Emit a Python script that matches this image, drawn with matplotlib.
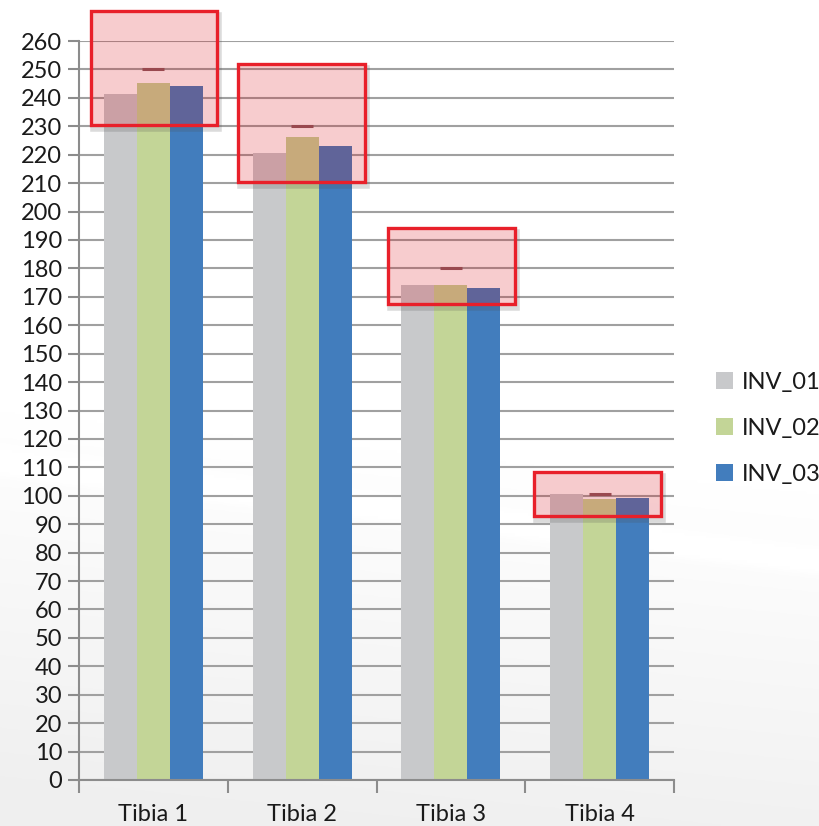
import numpy as np
import matplotlib
matplotlib.use("Agg")
import matplotlib.pyplot as plt
from matplotlib.patches import Rectangle
import matplotlib.transforms as mtransforms

categories = ["Tibia 1", "Tibia 2", "Tibia 3", "Tibia 4"]
series_names = ["INV_01", "INV_02", "INV_03"]
inv_01 = [241.4, 220.6, 174.2, 100.5]
inv_02 = [245.2, 226.2, 174.2, 99.0]
inv_03 = [244.2, 223.1, 173.1, 99.2]
inv_02_err_top = [250.0, 230.0, 180.0, 100.5]
y_ticks = list(range(0, 261, 10))
# highlight boxes: (x_left, x_right) in category units, (y_bottom, y_top) in data units
box_x = [(-0.42, 0.43), (0.57, 1.42), (1.58, 2.43), (2.56, 3.41)]
box_y = [(230.5, 270.6), (210.4, 251.9), (167.5, 194.2), (92.9, 108.4)]

colors = ["#c8c9cb", "#c3d597", "#427dbd"]

plt.rcParams['font.family'] = ['Lato', 'DejaVu Sans']

fig = plt.figure(figsize=(8.19, 8.26), dpi=100)
fig.patch.set_facecolor("white")

# background swoosh
bg = fig.add_axes([0, 0, 1, 1], zorder=-10)
h, w = 300, 300
yy = np.linspace(0, 1, h)[:, None] * np.ones((1, w))
xx = np.ones((h, 1)) * np.linspace(0, 1, w)[None, :]
curve = 0.50 + 0.10 * xx
t = np.clip((yy - curve) / 0.45, 0, 1)
shade = 1.0 - 0.06 * t
band = np.exp(-((yy - (0.56 + 0.12 * xx)) / 0.012) ** 2)
shade = np.clip(shade + 0.04 * band, 0, 1)
bg.imshow(np.dstack([shade] * 3), extent=[0, 1, 0, 1], aspect='auto', origin='upper')
bg.set_axis_off()

ax = fig.add_axes([79 / 819, 46 / 826, (674 - 79) / 819, (780 - 41) / 826])
ax.set_facecolor("none")

x = np.arange(len(categories))
bw = 0.222
for i, (vals, c, name) in enumerate(zip([inv_01, inv_02, inv_03], colors, series_names)):
    ax.bar(x + (i - 1) * bw, vals, width=bw, color=c, label=name, zorder=2)

ax.plot(x, inv_02_err_top, linestyle='none', marker='_', markersize=16,
        markeredgewidth=2.2, color="#8a5c60", zorder=3)

shadow_tr = mtransforms.offset_copy(ax.transData, fig=fig, x=2, y=-4, units='dots')
for (x0, x1), (y0, y1) in zip(box_x, box_y):
    ax.plot([x0, x1, x1], [y0, y0, y1], color=(0.3, 0.3, 0.3, 0.2), linewidth=4,
            solid_joinstyle='miter', transform=shadow_tr, zorder=3.9, clip_on=False)
    r = Rectangle((x0, y0), x1 - x0, y1 - y0, facecolor=(0.85, 0.0, 0.05, 0.2),
                  edgecolor="#e8202a", linewidth=2.4, zorder=4, clip_on=False)
    ax.add_patch(r)

ax.set_xlim(-0.5, len(categories) - 0.5)
ax.set_ylim(0, 260)
ax.set_yticks(y_ticks)
ax.set_yticklabels([str(v) for v in y_ticks], fontsize=17, color="#1a1a1a")
ax.yaxis.grid(True, color="#a0a0a0", linewidth=1.5, zorder=0)
ax.set_axisbelow(True)
ax.set_xticks(x)
ax.set_xticklabels(categories, fontsize=17, color="#1a1a1a")
ax.set_xticks(np.arange(-0.5, len(categories), 1.0), minor=True)
ax.tick_params(axis='x', which='major', length=0, pad=17)
ax.tick_params(axis='x', which='minor', length=9, width=1.5, color="#8c8c8c")
ax.tick_params(axis='y', length=8, width=1.5, color="#8c8c8c", pad=4)
for s in ["top", "right"]:
    ax.spines[s].set_visible(False)
for s in ["left", "bottom"]:
    ax.spines[s].set_color("#8c8c8c")
    ax.spines[s].set_linewidth(1.5)

leg = ax.legend(loc="center left", bbox_to_anchor=(1.07, 0.476), frameon=False,
                fontsize=17, handlelength=0.75, handleheight=0.75, handletextpad=0.35,
                labelspacing=1.05, borderaxespad=0, borderpad=0)
for t_ in leg.get_texts():
    t_.set_color("#1a1a1a")

fig.savefig("out.png", dpi=100)
